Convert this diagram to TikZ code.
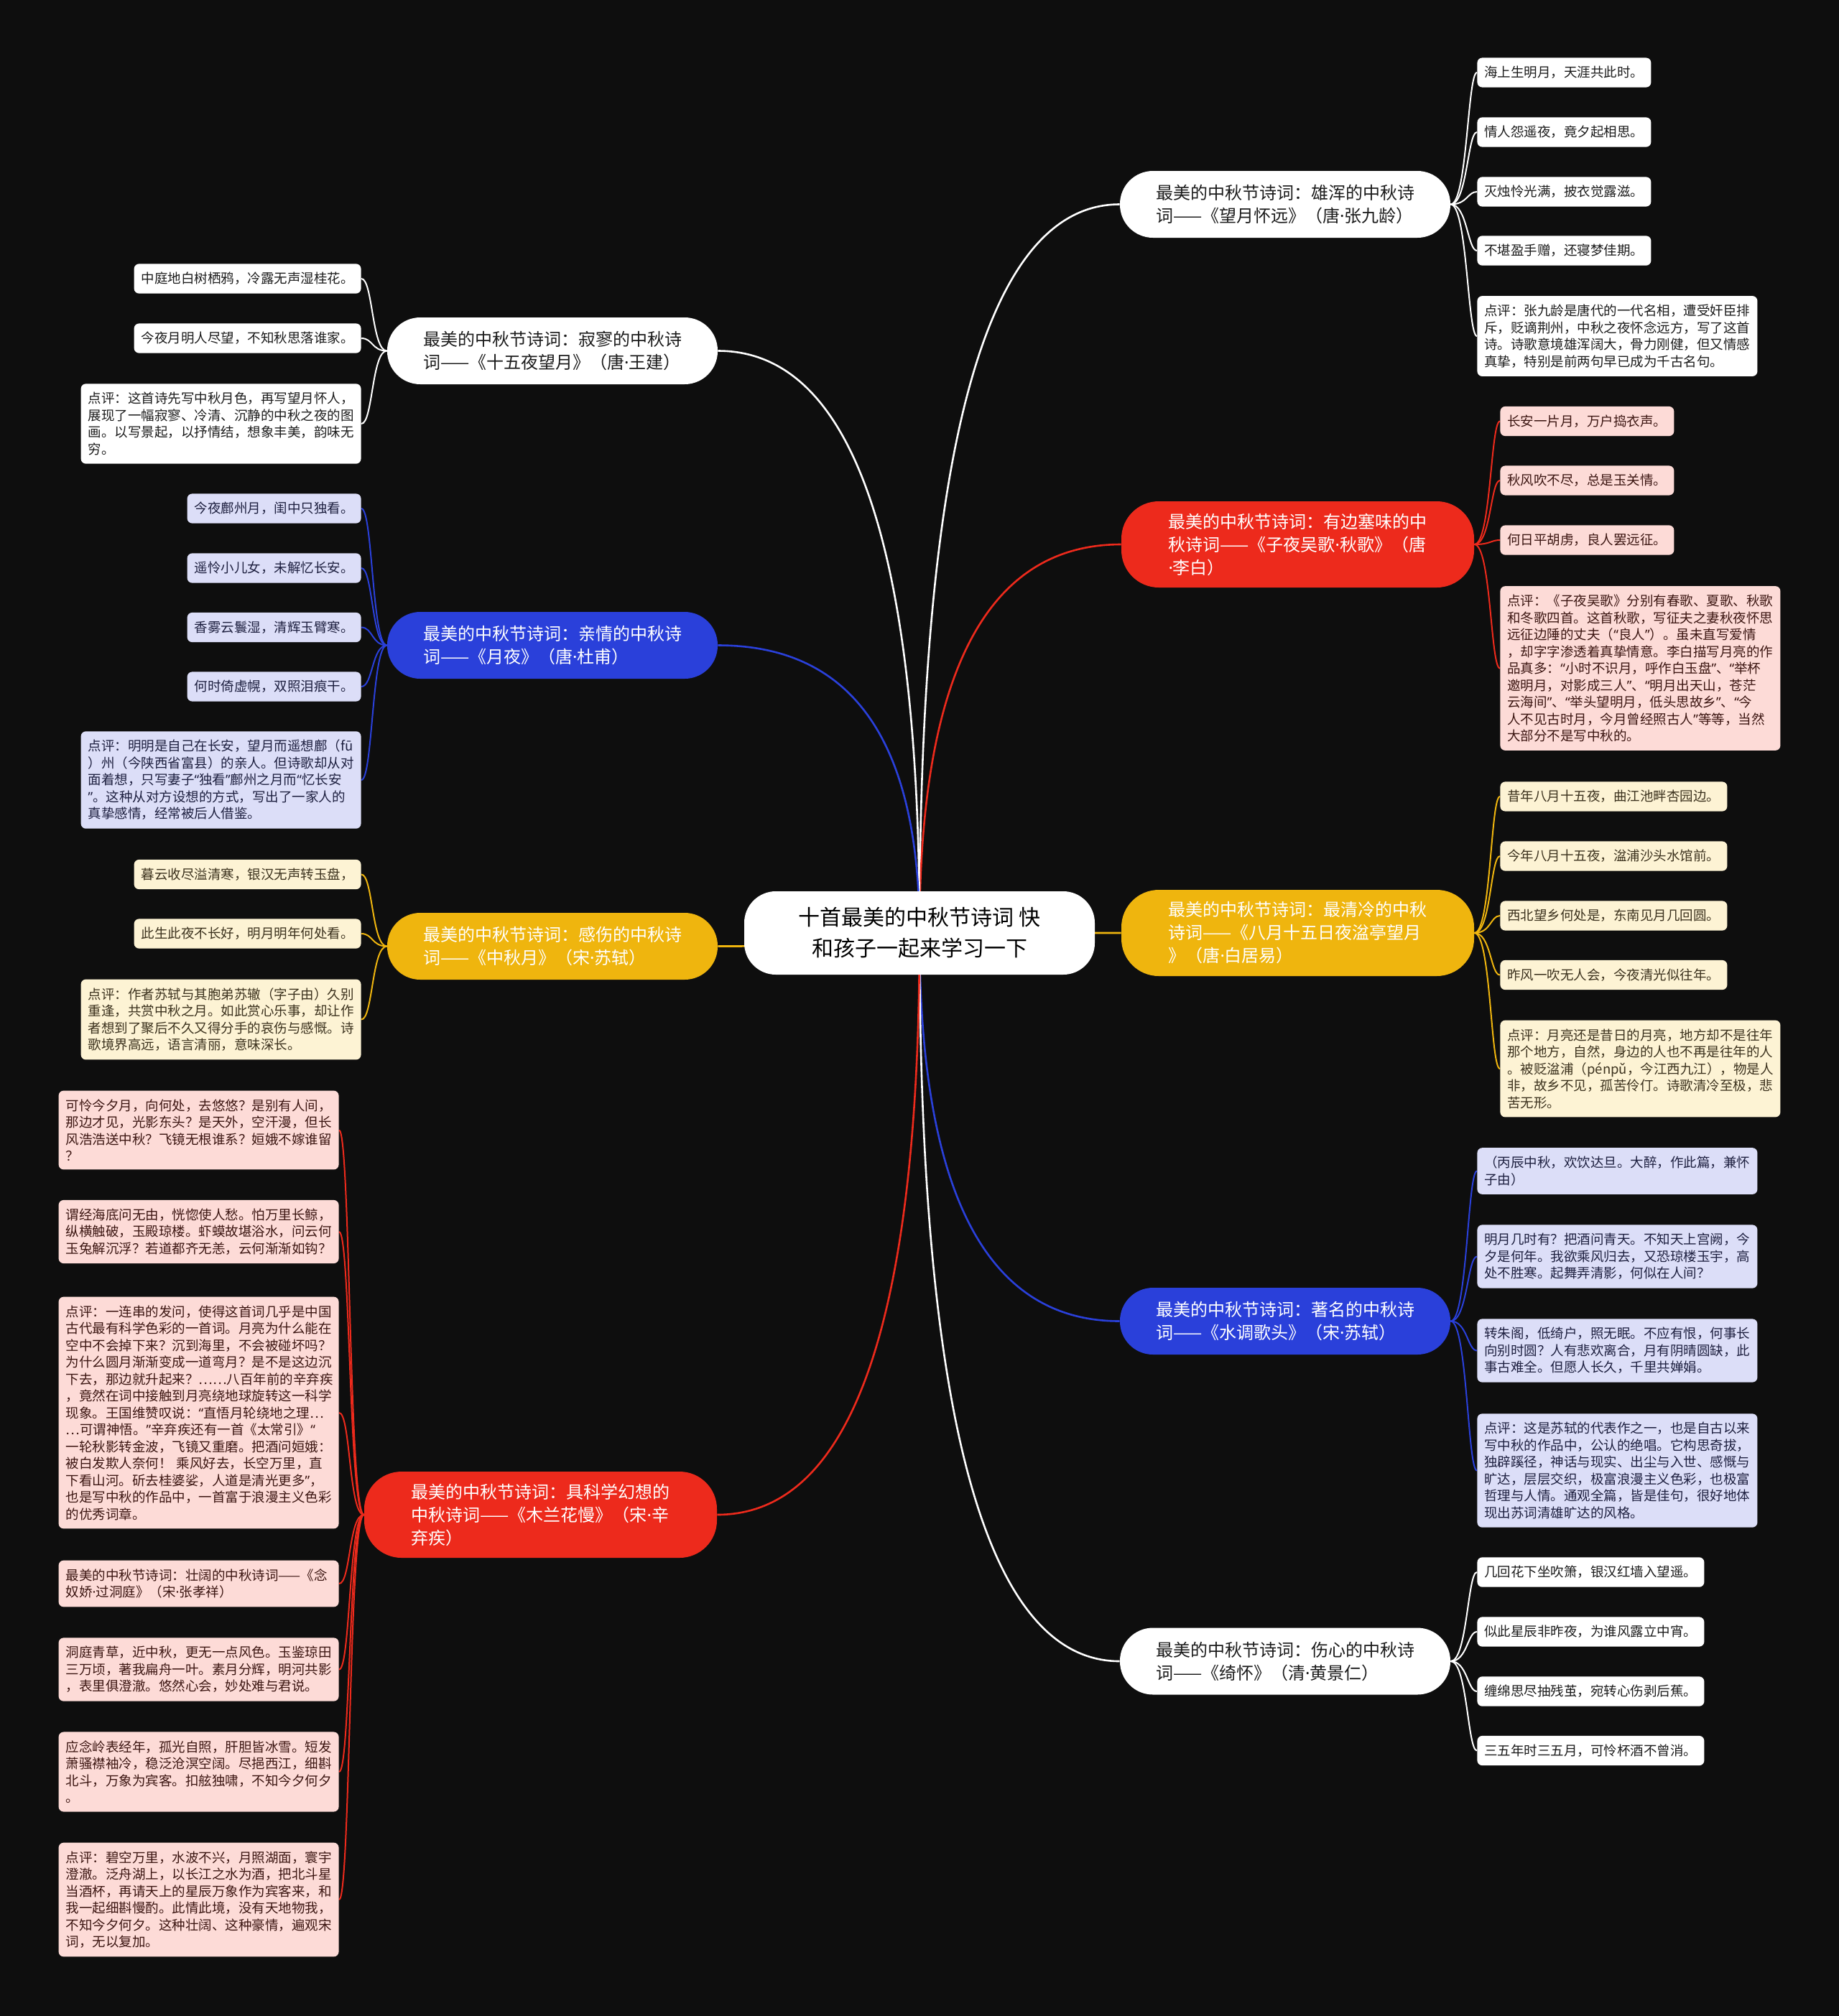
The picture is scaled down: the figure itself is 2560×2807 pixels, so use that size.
\documentclass[tikz,border=0pt]{standalone}
\usepackage{fontspec}
\setmainfont{Noto Sans CJK SC}
\newfontfamily\latinfont{Noto Sans}
\usetikzlibrary{calc,backgrounds}
\definecolor{bgc}{RGB}{14,14,14}
\definecolor{mred}{RGB}{237,42,28}
\definecolor{myel}{RGB}{239,181,14}
\definecolor{mblue}{RGB}{42,64,218}
\definecolor{ink}{RGB}{28,28,28}
\definecolor{pinkbg}{RGB}{253,219,215}
\definecolor{pinkink}{RGB}{60,22,18}
\definecolor{creambg}{RGB}{253,243,212}
\definecolor{creamink}{RGB}{60,50,30}
\definecolor{lavbg}{RGB}{220,222,248}
\definecolor{lavink}{RGB}{30,32,64}
\newcommand\leaffont{\fontsize{9.25}{11.75}\selectfont}
\newcommand\branchfont{\fontsize{12}{16}\selectfont}
\newcommand\rootfont{\fontsize{15}{21.5}\selectfont}
\newcommand\mdot{{\latinfont ·}}
\newcommand\openq{{\latinfont “}}
\newcommand\closeq{{\latinfont ”}}

\begin{document}
\begin{tikzpicture}[x=0.5pt,y=-0.5pt,
 mainnode/.style={fill=white,text=black,rounded corners=22pt,minimum width=244pt,minimum height=58pt,align=center,font=\rootfont},
 branch/.style={rounded corners=23pt,minimum width=230pt,minimum height=46.5pt,align=left,inner ysep=2pt,font=\branchfont},
 tallbranch/.style={branch,minimum width=245.5pt,minimum height=60pt,rounded corners=26pt},
 leaf/.style={rounded corners=3.5pt,inner xsep=5pt,inner ysep=5.9pt,align=left,font=\leaffont},
 noteleaf/.style={leaf,text width=185pt},
 whiteleaf/.style={fill=white,text=ink},
 pinkleaf/.style={fill=pinkbg,text=pinkink},
 creamleaf/.style={fill=creambg,text=creamink},
 lavleaf/.style={fill=lavbg,text=lavink},
 mainlink/.style={line width=1.3pt,to path={.. controls ($(\tikztostart)!0.667!(\tikztostart|-\tikztotarget)$) and ($(\tikztotarget)!0.667!(\tikztostart|-\tikztotarget)$) .. (\tikztotarget)}},
 rlink/.style={line width=1pt,to path={.. controls +(23,0) and +(-13,0) .. (\tikztotarget)}},
 llink/.style={line width=1pt,to path={.. controls +(-21,0) and +(16,0) .. (\tikztotarget)}}]
\useasboundingbox (0,0) rectangle (2560,2807);

\node[mainnode] (ctr) at (1280,1299) {十首最美的中秋节诗词 快\\和孩子一起来学习一下};

\node[branch,fill=white,text=ink] (r1) at (1789,284.5) {最美的中秋节诗词：雄浑的中秋诗\\词——《望月怀远》（唐\mdot 张九龄）};
\node[tallbranch,fill=mred,text=white] (r2) at (1806.5,758) {最美的中秋节诗词：有边塞味的中\\秋诗词——《子夜吴歌\mdot 秋歌》（唐\\\mdot 李白）};
\node[tallbranch,fill=myel,text=white] (r3) at (1806.5,1299) {最美的中秋节诗词：最清冷的中秋\\诗词——《八月十五日夜湓亭望月\\》（唐\mdot 白居易）};
\node[branch,fill=mblue,text=white] (r4) at (1789,1839.5) {最美的中秋节诗词：著名的中秋诗\\词——《水调歌头》（宋\mdot 苏轼）};
\node[branch,fill=white,text=ink] (r5) at (1789,2313) {最美的中秋节诗词：伤心的中秋诗\\词——《绮怀》（清\mdot 黄景仁）};
\node[branch,fill=white,text=ink] (l1) at (769,488.5) {最美的中秋节诗词：寂寥的中秋诗\\词——《十五夜望月》（唐\mdot 王建）};
\node[branch,fill=mblue,text=white] (l2) at (769,898.5) {最美的中秋节诗词：亲情的中秋诗\\词——《月夜》（唐\mdot 杜甫）};
\node[branch,fill=myel,text=white] (l3) at (769,1317.5) {最美的中秋节诗词：感伤的中秋诗\\词——《中秋月》（宋\mdot 苏轼）};
\node[tallbranch,fill=mred,text=white] (l4) at (752.5,2109) {最美的中秋节诗词：具科学幻想的\\中秋诗词——《木兰花慢》（宋\mdot 辛\\弃疾）};

\node[leaf,whiteleaf,anchor=west] (r1a) at (2056,101) {海上生明月，天涯共此时。};
\node[leaf,whiteleaf,anchor=west] (r1b) at (2056,184) {情人怨遥夜，竟夕起相思。};
\node[leaf,whiteleaf,anchor=west] (r1c) at (2056,267) {灭烛怜光满，披衣觉露滋。};
\node[leaf,whiteleaf,anchor=west] (r1d) at (2056,349) {不堪盈手赠，还寝梦佳期。};
\node[noteleaf,whiteleaf,anchor=west] (r1e) at (2056,468) {点评：张九龄是唐代的一代名相，遭受奸臣排\\斥，贬谪荆州，中秋之夜怀念远方，写了这首\\诗。诗歌意境雄浑阔大，骨力刚健，但又情感\\真挚，特别是前两句早已成为千古名句。};

\node[leaf,pinkleaf,anchor=west] (r2a) at (2088,586.5) {长安一片月，万户捣衣声。};
\node[leaf,pinkleaf,anchor=west] (r2b) at (2088,669) {秋风吹不尽，总是玉关情。};
\node[leaf,pinkleaf,anchor=west] (r2c) at (2088,752) {何日平胡虏，良人罢远征。};
\node[noteleaf,pinkleaf,anchor=west] (r2d) at (2088,930.5) {点评：《子夜吴歌》分别有春歌、夏歌、秋歌\\和冬歌四首。这首秋歌，写征夫之妻秋夜怀思\\远征边陲的丈夫（\openq 良人\closeq ）。虽未直写爱情\\，却字字渗透着真挚情意。李白描写月亮的作\\品真多：\openq 小时不识月，呼作白玉盘\closeq 、\openq 举杯\\邀明月，对影成三人\closeq 、\openq 明月出天山，苍茫\\云海间\closeq 、\openq 举头望明月，低头思故乡\closeq 、\openq 今\\人不见古时月，今月曾经照古人\closeq 等等，当然\\大部分不是写中秋的。};

\node[leaf,creamleaf,anchor=west] (r3a) at (2088,1109) {昔年八月十五夜，曲江池畔杏园边。};
\node[leaf,creamleaf,anchor=west] (r3b) at (2088,1192) {今年八月十五夜，湓浦沙头水馆前。};
\node[leaf,creamleaf,anchor=west] (r3c) at (2088,1275) {西北望乡何处是，东南见月几回圆。};
\node[leaf,creamleaf,anchor=west] (r3d) at (2088,1357.5) {昨风一吹无人会，今夜清光似往年。};
\node[noteleaf,creamleaf,anchor=west] (r3e) at (2088,1488) {点评：月亮还是昔日的月亮，地方却不是往年\\那个地方，自然，身边的人也不再是往年的人\\。被贬湓浦（pénpǔ，今江西九江），物是人\\非，故乡不见，孤苦伶仃。诗歌清冷至极，悲\\苦无形。};

\node[noteleaf,lavleaf,anchor=west] (r4a) at (2056,1630.5) {（丙辰中秋，欢饮达旦。大醉，作此篇，兼怀\\子由）};
\node[noteleaf,lavleaf,anchor=west] (r4b) at (2056,1749.5) {明月几时有？把酒问青天。不知天上宫阙，今\\夕是何年。我欲乘风归去，又恐琼楼玉宇，高\\处不胜寒。起舞弄清影，何似在人间？};
\node[noteleaf,lavleaf,anchor=west] (r4c) at (2056,1880.5) {转朱阁，低绮户，照无眠。不应有恨，何事长\\向别时圆？人有悲欢离合，月有阴晴圆缺，此\\事古难全。但愿人长久，千里共婵娟。};
\node[noteleaf,lavleaf,anchor=west] (r4d) at (2056,2047.5) {点评：这是苏轼的代表作之一，也是自古以来\\写中秋的作品中，公认的绝唱。它构思奇拔，\\独辟蹊径，神话与现实、出尘与入世、感慨与\\旷达，层层交织，极富浪漫主义色彩，也极富\\哲理与人情。通观全篇，皆是佳句，很好地体\\现出苏词清雄旷达的风格。};

\node[leaf,whiteleaf,anchor=west] (r5a) at (2056,2189) {几回花下坐吹箫，银汉红墙入望遥。};
\node[leaf,whiteleaf,anchor=west] (r5b) at (2056,2272) {似此星辰非昨夜，为谁风露立中宵。};
\node[leaf,whiteleaf,anchor=west] (r5c) at (2056,2355) {缠绵思尽抽残茧，宛转心伤剥后蕉。};
\node[leaf,whiteleaf,anchor=west] (r5d) at (2056,2437.5) {三五年时三五月，可怜杯酒不曾消。};

\node[leaf,whiteleaf,anchor=east] (l1a) at (503,388) {中庭地白树栖鸦，冷露无声湿桂花。};
\node[leaf,whiteleaf,anchor=east] (l1b) at (503,471) {今夜月明人尽望，不知秋思落谁家。};
\node[noteleaf,whiteleaf,anchor=east] (l1c) at (503,590) {点评：这首诗先写中秋月色，再写望月怀人，\\展现了一幅寂寥、冷清、沉静的中秋之夜的图\\画。以写景起，以抒情结，想象丰美，韵味无\\穷。};

\node[leaf,lavleaf,anchor=east] (l2a) at (503,708) {今夜鄜州月，闺中只独看。};
\node[leaf,lavleaf,anchor=east] (l2b) at (503,791) {遥怜小儿女，未解忆长安。};
\node[leaf,lavleaf,anchor=east] (l2c) at (503,873.5) {香雾云鬟湿，清辉玉臂寒。};
\node[leaf,lavleaf,anchor=east] (l2d) at (503,956) {何时倚虚幌，双照泪痕干。};
\node[noteleaf,lavleaf,anchor=east] (l2e) at (503,1086) {点评：明明是自己在长安，望月而遥想鄜（fū\\）州（今陕西省富县）的亲人。但诗歌却从对\\面着想，只写妻子\openq 独看\closeq 鄜州之月而\openq 忆长安\\\closeq 。这种从对方设想的方式，写出了一家人的\\真挚感情，经常被后人借鉴。};

\node[leaf,creamleaf,anchor=east] (l3a) at (503,1217.5) {暮云收尽溢清寒，银汉无声转玉盘，};
\node[leaf,creamleaf,anchor=east] (l3b) at (503,1300) {此生此夜不长好，明月明年何处看。};
\node[noteleaf,creamleaf,anchor=east] (l3c) at (503,1419.5) {点评：作者苏轼与其胞弟苏辙（字子由）久别\\重逢，共赏中秋之月。如此赏心乐事，却让作\\者想到了聚后不久又得分手的哀伤与感慨。诗\\歌境界高远，语言清丽，意味深长。};

\node[noteleaf,pinkleaf,anchor=east] (l4a) at (472,1573.5) {可怜今夕月，向何处，去悠悠？是别有人间，\\那边才见，光影东头？是天外，空汗漫，但长\\风浩浩送中秋？飞镜无根谁系？姮娥不嫁谁留\\？};
\node[noteleaf,pinkleaf,anchor=east] (l4b) at (472,1715) {谓经海底问无由，恍惚使人愁。怕万里长鲸，\\纵横触破，玉殿琼楼。虾蟆故堪浴水，问云何\\玉兔解沉浮？若道都齐无恙，云何渐渐如钩？};
\node[noteleaf,pinkleaf,anchor=east] (l4c) at (472,1967) {点评：一连串的发问，使得这首词几乎是中国\\古代最有科学色彩的一首词。月亮为什么能在\\空中不会掉下来？沉到海里，不会被碰坏吗？\\为什么圆月渐渐变成一道弯月？是不是这边沉\\下去，那边就升起来？……八百年前的辛弃疾\\，竟然在词中接触到月亮绕地球旋转这一科学\\现象。王国维赞叹说：\openq 直悟月轮绕地之理…\\…可谓神悟。\closeq 辛弃疾还有一首《太常引》\openq \\一轮秋影转金波，飞镜又重磨。把酒问姮娥：\\被白发欺人奈何！ 乘风好去，长空万里，直\\下看山河。斫去桂婆娑，人道是清光更多\closeq ，\\也是写中秋的作品中，一首富于浪漫主义色彩\\的优秀词章。};
\node[noteleaf,pinkleaf,anchor=east] (l4d) at (472,2205) {最美的中秋节诗词：壮阔的中秋诗词——《念\\奴娇\mdot 过洞庭》（宋\mdot 张孝祥）};
\node[noteleaf,pinkleaf,anchor=east] (l4e) at (472,2324.5) {洞庭青草，近中秋，更无一点风色。玉鉴琼田\\三万顷，著我扁舟一叶。素月分辉，明河共影\\，表里俱澄澈。悠然心会，妙处难与君说。};
\node[noteleaf,pinkleaf,anchor=east] (l4f) at (472,2467) {应念岭表经年，孤光自照，肝胆皆冰雪。短发\\萧骚襟袖冷，稳泛沧溟空阔。尽挹西江，细斟\\北斗，万象为宾客。扣舷独啸，不知今夕何夕\\。};
\node[noteleaf,pinkleaf,anchor=east] (l4g) at (472,2645) {点评：碧空万里，水波不兴，月照湖面，寰宇\\澄澈。泛舟湖上，以长江之水为酒，把北斗星\\当酒杯，再请天上的星辰万象作为宾客来，和\\我一起细斟慢酌。此情此境，没有天地物我，\\不知今夕何夕。这种壮阔、这种豪情，遍观宋\\词，无以复加。};

\begin{scope}[on background layer]
\fill[bgc] (0,0) rectangle (2560,2807);
\draw[mainlink,white] (ctr.center) to (r1.west);
\draw[mainlink,mred] (ctr.center) to (r2.west);
\draw[mainlink,myel] (ctr.center) to (r3.west);
\draw[mainlink,mblue] (ctr.center) to (r4.west);
\draw[mainlink,white] (ctr.center) to (r5.west);
\draw[mainlink,white] (ctr.center) to (l1.east);
\draw[mainlink,mblue] (ctr.center) to (l2.east);
\draw[mainlink,myel] (ctr.center) to (l3.east);
\draw[mainlink,mred] (ctr.center) to (l4.east);
\foreach \k in {a,...,e} \draw[rlink,white] (r1.east) to (r1\k.west);
\foreach \k in {a,...,d} \draw[rlink,mred] (r2.east) to (r2\k.west);
\foreach \k in {a,...,e} \draw[rlink,myel] (r3.east) to (r3\k.west);
\foreach \k in {a,...,d} \draw[rlink,mblue] (r4.east) to (r4\k.west);
\foreach \k in {a,...,d} \draw[rlink,white] (r5.east) to (r5\k.west);
\foreach \k in {a,...,c} \draw[llink,white] (l1.west) to (l1\k.east);
\foreach \k in {a,...,e} \draw[llink,mblue] (l2.west) to (l2\k.east);
\foreach \k in {a,...,c} \draw[llink,myel] (l3.west) to (l3\k.east);
\foreach \k in {a,...,g} \draw[llink,mred] (l4.west) to (l4\k.east);
\end{scope}
\end{tikzpicture}
\end{document}
